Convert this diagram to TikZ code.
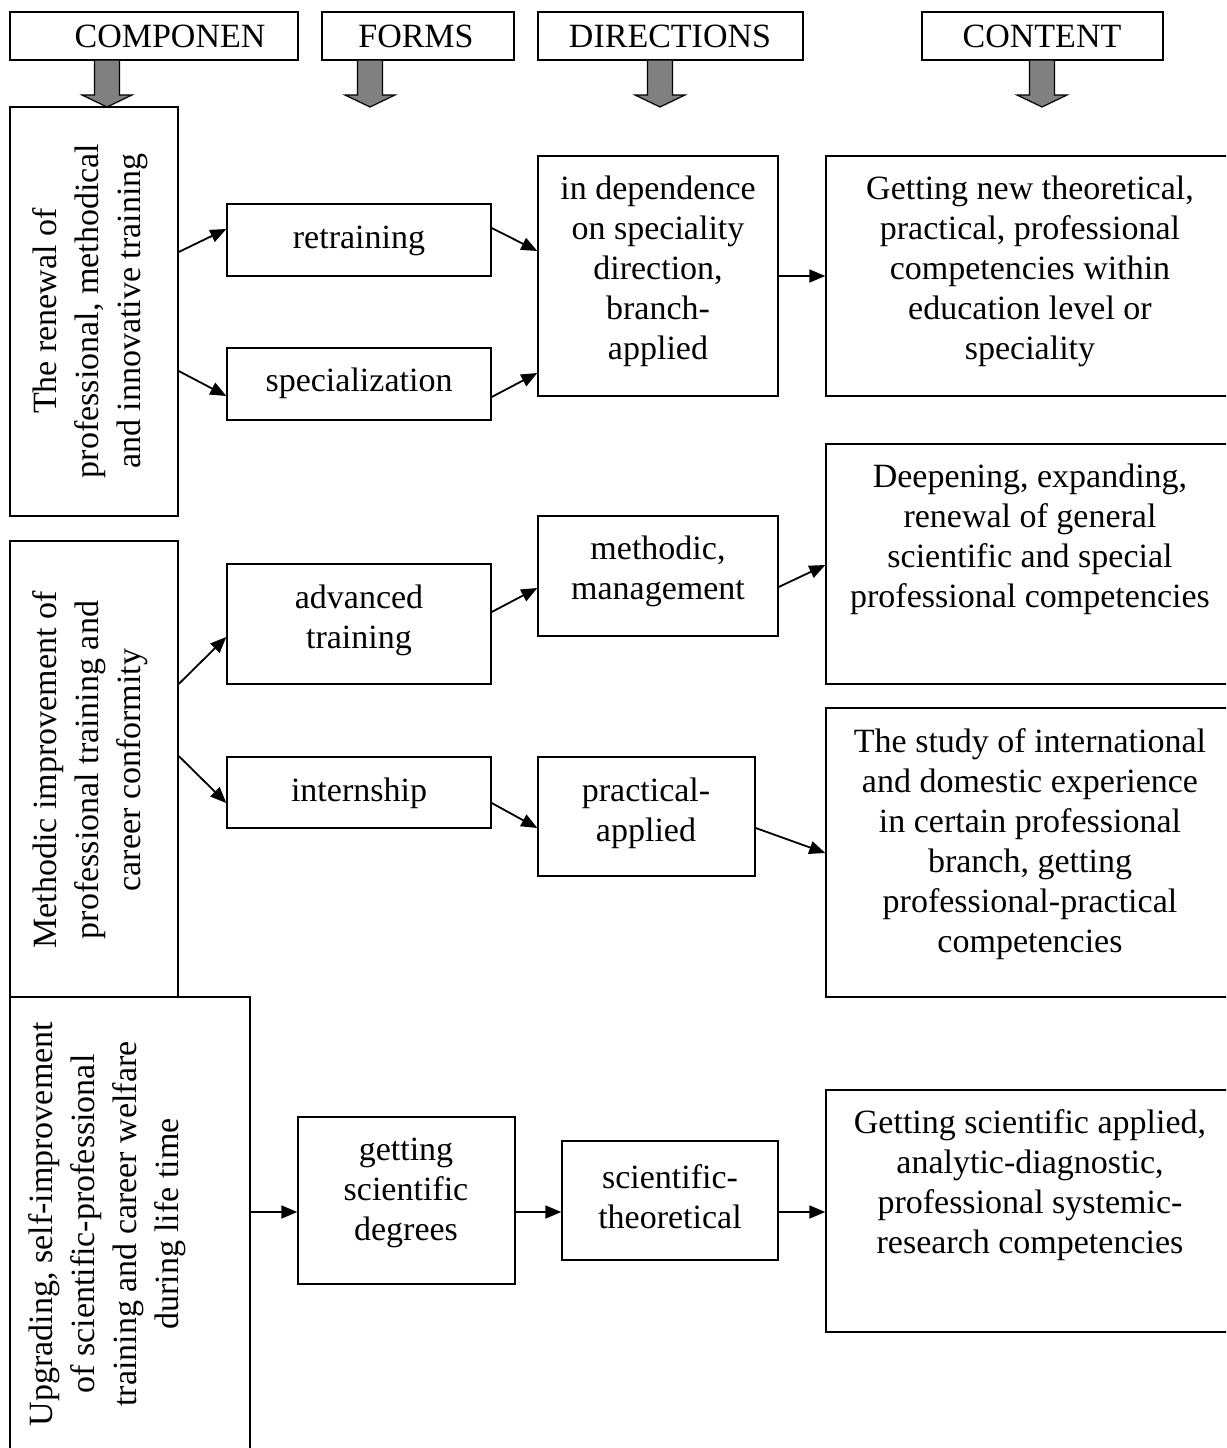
\documentclass[tikz,border=0pt]{standalone}
\usepackage{fontspec}
\setmainfont{Liberation Serif}
\usetikzlibrary{arrows.meta,fit}
\definecolor{arrgray}{HTML}{808080}
\begin{document}
\begin{tikzpicture}[x=1pt,y=-1pt,
  box/.style={draw, line width=1.4pt, rectangle, inner sep=0pt},
  txt/.style={font=\fontsize{34}{40}\selectfont, align=center, inner sep=0pt, yshift=-3pt},
  rtxt/.style={font=\fontsize{34}{42}\selectfont, align=center, inner sep=0pt, rotate=90},
  conn/.style={line width=1.8pt, -{Triangle[length=16pt,width=13pt]}},
  blockarr/.style={fill=arrgray, draw=black, line width=1.2pt}
]
\useasboundingbox (0,0) rectangle (1226,1448);
\fill[white] (0,0) rectangle (1226,1448);
\clip (0,0) rectangle (1226,1448);

% header boxes
\node[box, fit={(10,12) (298,60)}] (h1) {};
\node[box, fit={(322,12) (514,60)}] (h2) {};
\node[box, fit={(538,12) (803,60)}] (h3) {};
\node[box, fit={(922,12) (1163,60)}] (h4) {};
\node[txt, anchor=base, yshift=3pt] (th1) at (170,47) {COMPONEN};
\node[txt, anchor=base, yshift=3pt] (th2) at (416,47) {FORMS};
\node[txt, anchor=base, yshift=3pt] (th3) at (670,47) {DIRECTIONS};
\node[txt, anchor=base, yshift=3pt] (th4) at (1042,47) {CONTENT};

% block arrows
\newcommand{\blockarrow}[2]{%
  \filldraw[blockarr] (#1-12.5,#2) -- (#1+12.5,#2) -- (#1+12.5,95) -- (#1+25,95)
     -- (#1,107) -- (#1-25,95) -- (#1-12.5,95) -- cycle;}
\blockarrow{107}{60}
\blockarrow{370}{60}
\blockarrow{660}{60}
\blockarrow{1042}{60}

% component boxes
\node[box, fit={(10,107) (178,516)}] (c1) {};
\node[box, fit={(10,541) (178,997)}] (c2) {};
\node[box, fill=white, fit={(10,997) (250,1470)}] (c3) {};
\node[rtxt] (tc1) at (90,311) {The renewal of\\professional, methodical\\and innovative training};
\node[rtxt] (tc2) at (90,770) {Methodic improvement of\\professional training and\\career conformity};
\node[rtxt] (tc3) at (107,1224) {Upgrading, self-improvement\\of scientific-professional\\training and career welfare\\during life time};

% forms
\node[box, fit={(227,204) (491,276)}] (f1) {};
\node[box, fit={(227,348) (491,420)}] (f2) {};
\node[box, fit={(227,564) (491,684)}] (f3) {};
\node[box, fit={(227,757) (491,828)}] (f4) {};
\node[box, fit={(298,1117) (515,1284)}] (f5) {};
\node[txt] (tf1) at (359,238) {retraining};
\node[txt] (tf2) at (359,380) {specialization};
\node[txt] (tf3) at (359,617) {advanced\\training};
\node[txt] (tf4) at (359,790) {internship};
\node[txt] (tf5) at (406,1190) {getting\\scientific\\degrees};

% directions
\node[box, fit={(538,156) (778,396)}] (d1) {};
\node[box, fit={(538,516) (778,636)}] (d2) {};
\node[box, fit={(538,757) (755,876)}] (d3) {};
\node[box, fit={(562,1141) (778,1260)}] (d4) {};
\node[txt] (td1) at (658,268) {in dependence\\on speciality\\direction,\\branch-\\applied};
\node[txt] (td2) at (658,568) {methodic,\\management};
\node[txt] (td3) at (646,810) {practical-\\applied};
\node[txt] (td4) at (670,1194) {scientific-\\theoretical};

% content
\node[box, fit={(826,156) (1236,396)}] (k1) {};
\node[box, fit={(826,444) (1236,684)}] (k2) {};
\node[box, fit={(826,708) (1236,997)}] (k3) {};
\node[box, fit={(826,1090) (1236,1332)}] (k4) {};
\node[txt] (tk1) at (1030,268) {Getting new theoretical,\\practical, professional\\competencies within\\education level or\\speciality};
\node[txt] (tk2) at (1030,536) {Deepening, expanding,\\renewal of general\\scientific and special\\professional competencies};
\node[txt] (tk3) at (1030,841) {The study of international\\and domestic experience\\in certain professional\\branch, getting\\professional-practical\\competencies};
\node[txt] (tk4) at (1030,1182) {Getting scientific applied,\\analytic-diagnostic,\\professional systemic-\\research competencies};

% connectors
\draw[conn] (c1.east |- 0,252) -- (f1.west |- 0,229);
\draw[conn] (c1.east |- 0,371) -- (f2.west |- 0,396);
\draw[conn] (f1.east |- 0,228) -- (d1.west |- 0,251);
\draw[conn] (f2.east |- 0,397) -- (d1.west |- 0,373);
\draw[conn] (d1.east |- 0,276) -- (k1.west |- 0,276);

\draw[conn] (c2.east |- 0,684) -- (f3.west |- 0,637);
\draw[conn] (c2.east |- 0,756) -- (f4.west |- 0,803);
\draw[conn] (f3.east |- 0,612) -- (d2.west |- 0,588);
\draw[conn] (d2.east |- 0,587) -- (k2.west |- 0,565);
\draw[conn] (f4.east |- 0,803) -- (d3.west |- 0,828);
\draw[conn] (d3.east |- 0,828) -- (k3.west |- 0,853);

\draw[conn] (c3.east |- 0,1212) -- (f5.west |- 0,1212);
\draw[conn] (f5.east |- 0,1212) -- (d4.west |- 0,1212);
\draw[conn] (d4.east |- 0,1212) -- (k4.west |- 0,1212);
\end{tikzpicture}
\end{document}
